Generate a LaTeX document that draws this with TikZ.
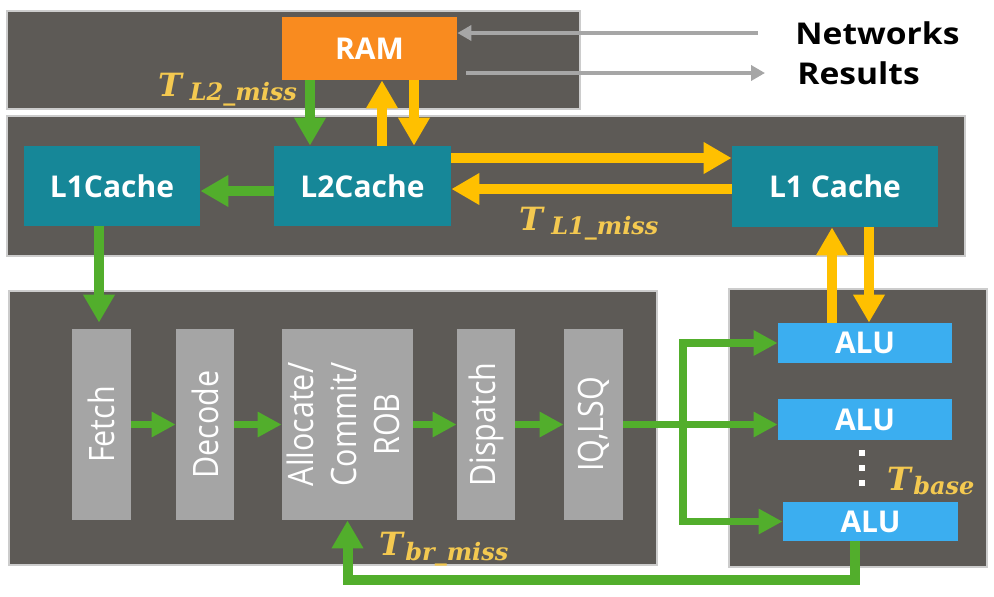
\documentclass[tikz,border=0pt]{standalone}
\usepackage{fontspec}
\setsansfont{Open Sans}
\newfontfamily\stagefont[FakeStretch=0.87]{Open Sans}
\newfontfamily\legendfont[FakeStretch=1.12]{Open Sans}
\newfontfamily\latfont{DejaVu Serif}
\usepackage{tikz}
\usetikzlibrary{arrows.meta}
\definecolor{cpuPanel}{HTML}{5D5A56}
\definecolor{cpuTeal}{HTML}{168798}
\definecolor{cpuOrange}{HTML}{F98B1F}
\definecolor{cpuBlue}{HTML}{3BAEF0}
\definecolor{cpuStage}{HTML}{A5A5A5}
\definecolor{cpuGreen}{HTML}{52AE2C}
\definecolor{cpuYellow}{HTML}{FFC000}
\definecolor{cpuGold}{HTML}{F4C950}
\definecolor{cpuGrey}{HTML}{A6A6A6}
% latency label: big T, lowered subscript
\newcommand{\tlat}[2][1pt]{{\latfont\fontsize{16}{19}\selectfont\bfseries\itshape T}\hspace{#1}%
  \raisebox{-0.5ex}{\latfont\fontsize{12}{14}\selectfont\bfseries\itshape #2}}
\tikzset{
  cpu diagram/.style={x=0.5pt, y=-0.5pt, line cap=butt},
  cpu panel/.style={fill=cpuPanel, draw=black!20, line width=0.6pt, inner sep=0pt},
  cpu unit/.style={text=white, inner sep=0pt, font=\sffamily\bfseries\fontsize{15}{18}\selectfont},
  cpu cache/.style={cpu unit, fill=cpuTeal, minimum width=88pt, minimum height=40pt},
  cpu stage/.style={cpu unit, fill=cpuStage, minimum height=95.5pt,
    font=\stagefont\fontsize{17.5}{21.5}\selectfont},
  cpu alu/.style={cpu unit, fill=cpuBlue, minimum width=87pt, minimum height=20pt},
  cpu big/.style={line width=5pt, -{Triangle[width=15pt,length=14pt]}},
  cpu small/.style={line width=3.75pt, -{Triangle[width=12pt,length=12pt]}},
  cpu thin/.style={draw=cpuGrey, line width=2pt, -{Triangle[width=7.5pt,length=7pt]}},
  cpu label/.style={text=cpuGold, inner sep=0pt},
  cpu legend/.style={inner sep=0pt, anchor=west, font=\legendfont\bfseries\fontsize{15}{18}\selectfont}
}
\begin{document}
\begin{tikzpicture}[cpu diagram]
\useasboundingbox (0,0) rectangle (994,596);
% panels
\node[cpu panel, minimum width=286.5pt, minimum height=49pt] (toppanel) at (293.5,60) {};
\node[cpu panel, minimum width=479pt, minimum height=70pt] (cachepanel) at (486,186) {};
\node[cpu panel, minimum width=324pt, minimum height=137pt] (pipepanel) at (333,428) {};
\node[cpu panel, minimum width=129pt, minimum height=139pt] (alupanel) at (858,428) {};
% memory
\node[cpu unit, fill=cpuOrange, minimum width=87.5pt, minimum height=31.5pt] (ram) at (369.5,48.5) {RAM};
\node[cpu cache] (l1a) at (112,186) {L1Cache};
\node[cpu cache, minimum width=88.5pt] (l2) at (362.5,186) {L2Cache};
\node[cpu cache, minimum width=103pt, minimum height=40.5pt] (l1b) at (835,186.5) {L1 Cache};
\node[cpu legend] (networks) at (795,33) {Networks};
\node[cpu legend] (results) at (797,73) {Results};
% pipeline
\node[cpu stage, minimum width=29.5pt] (fetch) at (101.5,424.5) {\rotatebox{90}{Fetch}};
\node[cpu stage, minimum width=29pt] (decode) at (205,424.5) {\rotatebox{90}{Decode}};
\node[cpu stage, minimum width=65.5pt] (alloc) at (347.5,424.5)
  {\rotatebox{90}{\begin{tabular}{@{}c@{}}Allocate/\\Commit/\\ROB\end{tabular}}};
\node[cpu stage, minimum width=29pt] (dispatch) at (486,424.5) {\rotatebox{90}{Dispatch}};
\node[cpu stage, minimum width=29.5pt] (iqlsq) at (593.5,424.5) {\rotatebox{90}{IQ,LSQ}};
% execution
\node[cpu alu] (alu1) at (865,343) {ALU};
\node[cpu alu, minimum height=20.5pt] (alu2) at (865,419.5) {ALU};
\node[cpu alu, minimum width=87.5pt, minimum height=19.5pt] (alu3) at (870.5,521.5) {ALU};
\foreach \y in {453,468,483}
  \fill[white] (859,\y-3) rectangle (865,\y+3);
% labels
\node[cpu label] (tl2) at (227.5,90) {\tlat[4pt]{L2\_miss}};
\node[cpu label] (tl1) at (589,224) {\tlat[4pt]{L1\_miss}};
\node[cpu label] (tbr) at (444,549) {\tlat{br\_miss}};
\node[cpu label] (tbase) at (931,481) {\tlat{base}};
% connectors
\draw[cpu thin, shorten <=18.5pt] (networks.west) -- (networks.west -| ram.east);
\draw[cpu thin, shorten <=4.5pt, shorten >=16pt] (results.west -| ram.east) -- (results.west);
\draw[cpu big, draw=cpuGreen] ([xshift=-29.75pt]ram.south) -- ([xshift=-29.75pt]ram.south |- l2.north);
\draw[cpu big, draw=cpuYellow] ([xshift=9.75pt]l2.north) -- ([xshift=9.75pt]l2.north |- ram.south);
\draw[cpu big, draw=cpuYellow] ([xshift=22.25pt]ram.south) -- ([xshift=22.25pt]ram.south |- l2.north);
\draw[cpu big, draw=cpuGreen] ([yshift=-2.5pt]l2.west) -- ([yshift=-2.5pt]l2.west -| l1a.east);
\draw[cpu big, draw=cpuYellow] ([yshift=14pt]l2.east) -- ([yshift=14pt]l2.east -| l1b.west);
\draw[cpu big, draw=cpuYellow] ([yshift=-1.25pt]l1b.west) -- ([yshift=-1.25pt]l1b.west -| l2.east);
\draw[cpu big, draw=cpuGreen, shorten >=3pt] ([xshift=-6.5pt]l1a.south) -- ([xshift=-6.5pt]l1a.south |- fetch.north);
\foreach \a/\b in {fetch/decode,decode/alloc,alloc/dispatch,dispatch/iqlsq}
  \draw[cpu small, draw=cpuGreen] (\a) -- (\b);
\coordinate (bus) at (683,424.5);
\draw[cpu small, draw=cpuGreen] (iqlsq.east) -- (iqlsq.east -| alu2.west);
\draw[cpu small, draw=cpuGreen] (bus) |- (alu1.west);
\draw[cpu small, draw=cpuGreen] (bus) |- (alu3.west);
\draw[cpu big, draw=cpuYellow] ([xshift=-16.5pt]alu1.north) -- ([xshift=-16.5pt]alu1.north |- l1b.south);
\draw[cpu big, draw=cpuYellow] ([xshift=2pt]alu1.north |- l1b.south) -- ([xshift=2pt]alu1.north);
\draw[cpu big, draw=cpuGreen] ([xshift=-7.75pt]alu3.south) -- ++(0,-19.5pt) -| (alloc.south);
\end{tikzpicture}
\end{document}
